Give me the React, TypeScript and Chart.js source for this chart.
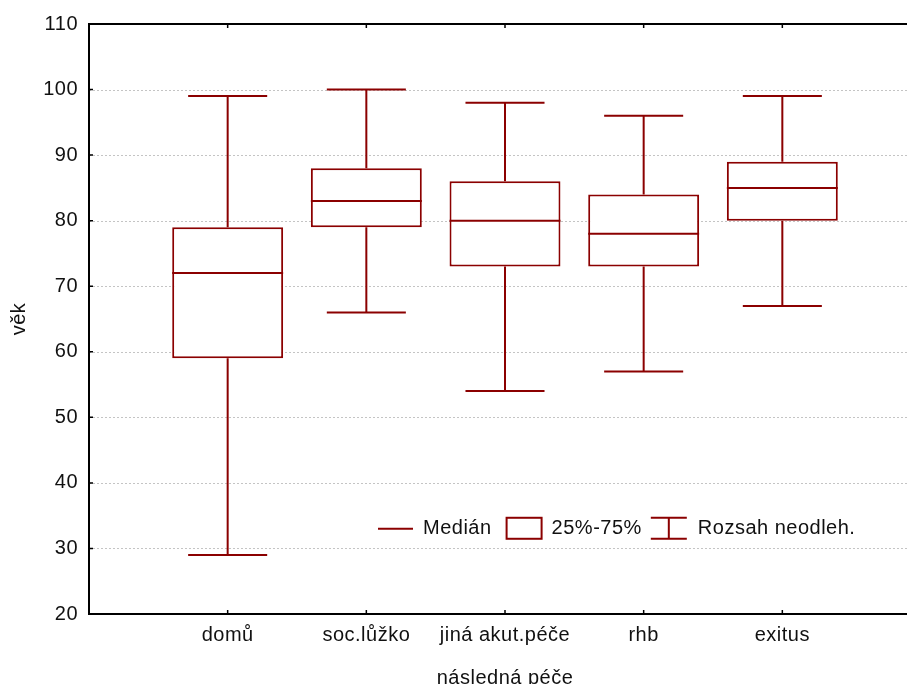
import React, { useEffect, useRef } from "react";
import { Chart, registerables } from "chart.js";

Chart.register(...registerables);

// Box plot of age by follow-up care
const categories = ["domů", "soc.lůžko", "jiná akut.péče", "rhb", "exitus"];
const whiskerMin = [29, 66, 54, 57, 67];
const quartile1 = [59, 79, 73, 73, 80];
const medians = [72, 83, 80, 78, 85];
const quartile3 = [79, 88, 86, 84, 89];
const whiskerMax = [99, 100, 98, 96, 99];
const yTicks = [20, 30, 40, 50, 60, 70, 80, 90, 100, 110];

const legendLabels = ["Medián", "25%-75%", "Rozsah neodleh."];
const xTitle = "následná péče";
const yTitle = "věk";

const RED = "#8b0000";
const FONT = "'Liberation Sans', Arial, sans-serif";
const FONT_SIZE = 20;

const boxPlotPlugin = {
  id: "boxPlotExtras",
  beforeDraw(chart: any) {
    chart.ctx.letterSpacing = "0.5px";
  },
  beforeDatasetsDraw(chart: any) {
    const { ctx, chartArea, scales } = chart;
    const y = scales.y;
    ctx.save();
    ctx.strokeStyle = "#c4c4c4";
    ctx.lineWidth = 1;
    ctx.setLineDash([2, 2]);
    yTicks.forEach((v) => {
      if (v === 20 || v === 110) return;
      const py = Math.round(y.getPixelForValue(v)) + 0.5;
      ctx.beginPath();
      ctx.moveTo(chartArea.left, py);
      ctx.lineTo(chartArea.right, py);
      ctx.stroke();
    });
    ctx.restore();
  },
  afterDatasetsDraw(chart: any) {
    const { ctx, chartArea, scales } = chart;
    const x = scales.x;
    const y = scales.y;
    const unit = x.getPixelForValue(1) - x.getPixelForValue(0);
    const capHalf = unit * 0.285;
    ctx.save();
    ctx.strokeStyle = RED;
    ctx.lineWidth = 2;
    categories.forEach((_, i) => {
      const cx = x.getPixelForValue(i + 1);
      const yMin = y.getPixelForValue(whiskerMin[i]);
      const yQ1 = y.getPixelForValue(quartile1[i]);
      const yQ3 = y.getPixelForValue(quartile3[i]);
      const yMax = y.getPixelForValue(whiskerMax[i]);
      const yMed = y.getPixelForValue(medians[i]);
      ctx.beginPath();
      ctx.moveTo(cx, yQ1);
      ctx.lineTo(cx, yMin);
      ctx.moveTo(cx - capHalf, yMin);
      ctx.lineTo(cx + capHalf, yMin);
      ctx.moveTo(cx, yQ3);
      ctx.lineTo(cx, yMax);
      ctx.moveTo(cx - capHalf, yMax);
      ctx.lineTo(cx + capHalf, yMax);
      ctx.stroke();
      const boxHalf = unit * 0.4;
      ctx.beginPath();
      ctx.moveTo(cx - boxHalf, yMed);
      ctx.lineTo(cx + boxHalf, yMed);
      ctx.stroke();
    });
    ctx.restore();

    // frame and inward tick marks
    ctx.save();
    ctx.strokeStyle = "#000";
    ctx.lineWidth = 2;
    const { left, right, top, bottom } = chartArea;
    ctx.beginPath();
    ctx.moveTo(left, top);
    ctx.lineTo(right, top);
    ctx.lineTo(right, bottom);
    ctx.lineTo(left, bottom);
    ctx.closePath();
    ctx.stroke();
    ctx.lineWidth = 1.5;
    ctx.beginPath();
    yTicks.forEach((v) => {
      const py = y.getPixelForValue(v);
      ctx.moveTo(left, py);
      ctx.lineTo(left + 4, py);
      ctx.moveTo(right, py);
      ctx.lineTo(right - 4, py);
    });
    categories.forEach((_, i) => {
      const px = x.getPixelForValue(i + 1);
      ctx.moveTo(px, bottom);
      ctx.lineTo(px, bottom - 4);
      ctx.moveTo(px, top);
      ctx.lineTo(px, top + 4);
    });
    ctx.stroke();
    ctx.restore();

    // legend inside the plot
    ctx.save();
    ctx.font = `${FONT_SIZE}px ${FONT}`;
    ctx.fillStyle = "#111";
    ctx.textBaseline = "middle";
    ctx.strokeStyle = RED;
    ctx.lineWidth = 2;
    const ly = y.getPixelForValue(33);
    let lx = left + 289;
    ctx.beginPath();
    ctx.moveTo(lx, ly);
    ctx.lineTo(lx + 35, ly);
    ctx.stroke();
    lx += 45;
    ctx.fillText(legendLabels[0], lx, ly);
    lx += ctx.measureText(legendLabels[0]).width + 15;
    ctx.strokeRect(lx, ly - 11, 35, 21);
    lx += 45;
    ctx.fillText(legendLabels[1], lx, ly);
    lx += ctx.measureText(legendLabels[1]).width + 9;
    ctx.beginPath();
    ctx.moveTo(lx, ly - 11);
    ctx.lineTo(lx + 36, ly - 11);
    ctx.moveTo(lx + 18, ly - 11);
    ctx.lineTo(lx + 18, ly + 10);
    ctx.moveTo(lx, ly + 10);
    ctx.lineTo(lx + 36, ly + 10);
    ctx.stroke();
    lx += 47;
    ctx.fillText(legendLabels[2], lx, ly);
    ctx.restore();
  },
};

export default function App() {
  const canvasRef = useRef<HTMLCanvasElement | null>(null);

  useEffect(() => {
    if (!canvasRef.current) return;
    const labels = ["", ...categories, ""];
    const boxes = [null, ...categories.map((_, i) => [quartile1[i], quartile3[i]]), null];
    const chart = new Chart(canvasRef.current, {
      type: "bar",
      data: {
        labels,
        datasets: [
          {
            data: boxes as any,
            backgroundColor: "#ffffff",
            borderColor: RED,
            borderWidth: 2,
            borderSkipped: false,
            barPercentage: 0.8,
            categoryPercentage: 1,
          },
        ],
      },
      options: {
        responsive: false,
        animation: false,
        layout: { padding: { top: 24, right: 19, left: 0, bottom: 0 } },
        plugins: { legend: { display: false }, tooltip: { enabled: false } },
        scales: {
          x: {
            type: "category",
            offset: false,
            grid: { display: false, drawTicks: false, tickLength: 0 },
            border: { display: false },
            ticks: {
              autoSkip: false,
              maxRotation: 0,
              color: "#111",
              padding: 9,
              font: { family: FONT, size: FONT_SIZE },
            },
            title: {
              display: true,
              text: xTitle,
              color: "#111",
              font: { family: FONT, size: FONT_SIZE },
              padding: { top: 0, bottom: -6 },
            },
            afterFit: (s: any) => {
              s.height = 70;
            },
          },
          y: {
            min: 20,
            max: 110,
            grid: { display: false, drawTicks: false, tickLength: 0 },
            border: { display: false },
            ticks: {
              stepSize: 10,
              color: "#111",
              padding: 11,
              font: { family: FONT, size: FONT_SIZE },
            },
            title: {
              display: true,
              text: yTitle,
              color: "#111",
              font: { family: FONT, size: FONT_SIZE },
              padding: { top: 7, bottom: 0 },
            },
            afterFit: (s: any) => {
              s.width = 89;
            },
          },
        },
      },
      plugins: [boxPlotPlugin],
    });
    return () => chart.destroy();
  }, []);

  return (
    <div
      style={{
        position: "fixed",
        left: 0,
        top: 0,
        width: 907,
        height: 684,
        overflow: "hidden",
        background: "#fff",
      }}
    >
      <canvas ref={canvasRef} width={940} height={684} style={{ display: "block" }} />
    </div>
  );
}
